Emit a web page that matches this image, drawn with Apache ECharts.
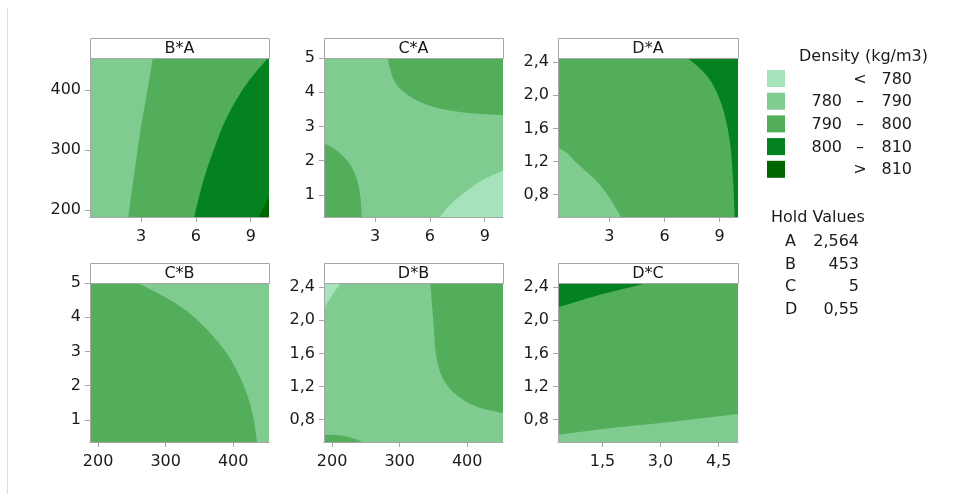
<!DOCTYPE html>
<html>
<head>
<meta charset="utf-8">
<script src="https://cdn.jsdelivr.net/npm/echarts@6/dist/echarts.min.js"></script>
<style>
  html, body { margin: 0; padding: 0; background: #ffffff; }
  #chart { width: 964px; height: 495px; }
</style>
</head>
<body>
<div id="chart"></div>
<script>
const FONT = '"DejaVu Sans", "Open Sans", sans-serif';

// Density bands, lowest to highest
const bandColors = ['#a6e3ba', '#80cb8f', '#53ae5c', '#04821f', '#006700'];
const bandLabels = [['', '<', '780'], ['780', '–', '790'], ['790', '–', '800'], ['800', '–', '810'], ['', '>', '810']];

// Hold values of the factors not shown in a panel
const holdFactors = ['A', 'B', 'C', 'D'];
const holdValues = ['2,564', '453', '5', '0,55'];

// Factor ranges
const rangeA = [0.2, 10];
const rangeB = [188, 453];
const rangeC = [0.35, 5];
const rangeD = [0.53, 2.45];

// Tick values
const ticksA = [3, 6, 9];
const ticksB = [200, 300, 400];
const ticksC = [1, 2, 3, 4, 5];
const ticksCx = [1.5, 3.0, 4.5];
const ticksD = [0.8, 1.2, 1.6, 2.0, 2.4];

// Contour boundaries, [x, y] in factor units
// B*A  (x = A, y = B)
const baLine790 = [[3.64, 453], [3.35, 400], [2.95, 330], [2.62, 260], [2.30, 188]];
const baLine800 = [[9.95, 453], [8.78, 410], [7.69, 354], [6.96, 299], [6.41, 249], [5.90, 188]];
const baLine810 = [[9.42, 188], [10, 221]];
// C*A  (x = A, y = C)
const caLineTop = [[3.67, 5], [4.03, 4.35], [4.67, 3.96], [5.66, 3.67], [6.93, 3.48], [8.37, 3.38], [10, 3.33]];
const caLineLeft = [[0.2, 2.51], [0.87, 2.31], [1.59, 1.92], [2.01, 1.44], [2.19, 0.95], [2.28, 0.35]];
const caLine780 = [[6.53, 0.35], [7.2, 0.76], [8.1, 1.15], [8.91, 1.44], [10, 1.70]];
// D*A  (x = A, y = D)
const daLine790 = [[0.2, 1.37], [0.7, 1.30], [1.25, 1.175], [2.25, 0.973], [2.98, 0.771], [3.62, 0.53]];
const daLine800 = [[7.27, 2.45], [8.36, 2.22], [9.09, 1.90], [9.55, 1.456], [9.73, 0.973], [9.82, 0.53]];
// C*B  (x = B, y = C)
const cbLine790 = [[258.8, 5], [310.3, 4.46], [349.6, 3.87], [388.8, 2.99], [413.2, 2.11], [428, 1.23], [435.3, 0.35]];
// D*B  (x = B, y = D)
const dbLine780 = [[212.5, 2.45], [197.6, 2.27], [188, 2.15]];
const dbLineRight = [[345.4, 2.45], [349.9, 1.986], [353.9, 1.584], [363.7, 1.30], [383.6, 1.10], [413.4, 0.96], [453, 0.88]];
const dbLineLow = [[188, 0.618], [205, 0.615], [225, 0.59], [245, 0.53]];
// D*C  (x = C, y = D)
const dcLine800 = [[0.35, 2.155], [1.46, 2.31], [2.67, 2.45]];
const dcLine790 = [[0.35, 0.618], [1.72, 0.70], [3.01, 0.76], [5, 0.868]];

// Each region: [band, boundary, corners that close it]
const panels = [
  { title: 'B*A', xr: rangeA, yr: rangeB, xt: ticksA, yt: ticksB, xd: 0, yd: 0, base: 2,
    regions: [[1, baLine790, ['bl', 'tl']], [3, baLine800, ['br', 'tr']], [4, baLine810, ['br']]] },
  { title: 'C*A', xr: rangeA, yr: rangeC, xt: ticksA, yt: ticksC, xd: 0, yd: 0, base: 1,
    regions: [[2, caLineTop, ['tr']], [2, caLineLeft, ['bl']], [0, caLine780, ['br']]] },
  { title: 'D*A', xr: rangeA, yr: rangeD, xt: ticksA, yt: ticksD, xd: 0, yd: 1, base: 2,
    regions: [[1, daLine790, ['bl']], [3, daLine800, ['br', 'tr']]] },
  { title: 'C*B', xr: rangeB, yr: rangeC, xt: ticksB, yt: ticksC, xd: 0, yd: 0, base: 2,
    regions: [[1, cbLine790, ['br', 'tr']]] },
  { title: 'D*B', xr: rangeB, yr: rangeD, xt: ticksB, yt: ticksD, xd: 0, yd: 1, base: 1,
    regions: [[0, dbLine780, ['tl']], [2, dbLineRight, ['tr']], [2, dbLineLow, ['bl']]] },
  { title: 'D*C', xr: rangeC, yr: rangeD, xt: ticksCx, yt: ticksD, xd: 1, yd: 1, base: 2,
    regions: [[3, dcLine800, ['tl']], [1, dcLine790, ['br', 'bl']]] }
];

const colLeft = [90, 324, 558];
const colWidth = [179, 179, 180];
const rowTop = [58, 283];
const plotH = 159;
const headerH = 20;
const axisGray = '#a6a6a6';
const textColor = '#1a1a1a';

function fmt(dec) {
  return v => dec ? Number(v).toFixed(dec).replace('.', ',') : String(v);
}

function cornerValue(p, c) {
  const x = c[1] === 'l' ? p.xr[0] : p.xr[1];
  const y = c[0] === 'b' ? p.yr[0] : p.yr[1];
  return [x, y];
}

// Smooth path through the boundary points, then straight along the frame
function buildPath(pts, corners) {
  let d = '';
  if (pts.length) {
    d += 'M' + pts[0][0] + ',' + pts[0][1];
    for (let i = 0; i < pts.length - 1; i++) {
      const p0 = pts[Math.max(i - 1, 0)], p1 = pts[i], p2 = pts[i + 1], p3 = pts[Math.min(i + 2, pts.length - 1)];
      const c1 = [p1[0] + (p2[0] - p0[0]) / 6, p1[1] + (p2[1] - p0[1]) / 6];
      const c2 = [p2[0] - (p3[0] - p1[0]) / 6, p2[1] - (p3[1] - p1[1]) / 6];
      d += 'C' + c1[0] + ',' + c1[1] + ' ' + c2[0] + ',' + c2[1] + ' ' + p2[0] + ',' + p2[1];
    }
    corners.forEach(c => { d += 'L' + c[0] + ',' + c[1]; });
  } else {
    d += 'M' + corners[0][0] + ',' + corners[0][1];
    corners.slice(1).forEach(c => { d += 'L' + c[0] + ',' + c[1]; });
  }
  return d + 'Z';
}

const grid = [], xAxis = [], yAxis = [], series = [], graphic = [];

panels.forEach((p, i) => {
  const col = i % 3, row = Math.floor(i / 3);
  const left = colLeft[col], top = rowTop[row], width = colWidth[col];
  grid.push({ left: left, top: top, width: width, height: plotH });
  const axisCommon = {
    type: 'value', gridIndex: i, z: 5,
    axisLine: { show: true, lineStyle: { color: axisGray, width: 1 } },
    axisTick: { show: true, length: 5, lineStyle: { color: axisGray } },
    splitLine: { show: false },
    axisLabel: { color: textColor, fontFamily: FONT, fontSize: 16, margin: 9 }
  };
  xAxis.push(Object.assign({}, axisCommon, {
    min: p.xr[0], max: p.xr[1],
    axisTick: Object.assign({}, axisCommon.axisTick, { customValues: p.xt }),
    axisLabel: Object.assign({}, axisCommon.axisLabel, { customValues: p.xt, formatter: fmt(p.xd), margin: 12 })
  }));
  yAxis.push(Object.assign({}, axisCommon, {
    min: p.yr[0], max: p.yr[1],
    axisTick: Object.assign({}, axisCommon.axisTick, { customValues: p.yt }),
    axisLabel: Object.assign({}, axisCommon.axisLabel, { customValues: p.yt, formatter: fmt(p.yd) })
  }));

  const regions = [[p.base, [], ['bl', 'br', 'tr', 'tl']]].concat(p.regions);
  series.push({
    type: 'custom', xAxisIndex: i, yAxisIndex: i, clip: true, silent: true, animation: false,
    encode: { x: 0, y: 1 },
    data: regions.map((r, k) => [p.xr[0], p.yr[0], k]),
    renderItem: function (params, api) {
      const r = regions[api.value(2)];
      const pts = r[1].map(v => api.coord(v));
      const cs = r[2].map(c => api.coord(cornerValue(p, c)));
      return { type: 'path', shape: { pathData: buildPath(pts, cs) }, style: { fill: bandColors[r[0]], stroke: null } };
    }
  });

  // Panel header strip
  graphic.push({
    type: 'rect', left: left, top: top - headerH, z: 10,
    shape: { width: width, height: headerH },
    style: { fill: '#ffffff', stroke: axisGray, lineWidth: 1 }
  });
  graphic.push({
    type: 'text', x: left + width / 2, y: top - headerH / 2 + 1, z: 11,
    style: { text: p.title, fill: textColor, font: '16px ' + FONT, textAlign: 'center', textVerticalAlign: 'middle' }
  });
});

// Page edge rule
graphic.push({ type: 'line', z: 1, shape: { x1: 7.5, y1: 8, x2: 7.5, y2: 494 }, style: { stroke: '#dcdcdc', lineWidth: 1 } });

// Legend
graphic.push({ type: 'text', x: 799, y: 57, style: { text: 'Density (kg/m3)', fill: textColor, font: '16px ' + FONT, textVerticalAlign: 'middle' } });
bandLabels.forEach((b, k) => {
  const y = 70 + k * 22.7;
  graphic.push({ type: 'rect', shape: { x: 767, y: y, width: 18, height: 17 }, style: { fill: bandColors[k] } });
  const cy = y + 9.5;
  graphic.push({ type: 'text', x: 842, y: cy, style: { text: b[0], fill: textColor, font: '16px ' + FONT, textAlign: 'right', textVerticalAlign: 'middle' } });
  graphic.push({ type: 'text', x: 860, y: cy, style: { text: b[1], fill: textColor, font: '16px ' + FONT, textAlign: 'center', textVerticalAlign: 'middle' } });
  graphic.push({ type: 'text', x: 912, y: cy, style: { text: b[2], fill: textColor, font: '16px ' + FONT, textAlign: 'right', textVerticalAlign: 'middle' } });
});

// Hold values table
graphic.push({ type: 'text', x: 771, y: 218, style: { text: 'Hold Values', fill: textColor, font: '16px ' + FONT, textVerticalAlign: 'middle' } });
holdFactors.forEach((f, k) => {
  const cy = 241.7 + k * 22.7;
  graphic.push({ type: 'text', x: 785, y: cy, style: { text: f, fill: textColor, font: '16px ' + FONT, textVerticalAlign: 'middle' } });
  graphic.push({ type: 'text', x: 859, y: cy, style: { text: holdValues[k], fill: textColor, font: '16px ' + FONT, textAlign: 'right', textVerticalAlign: 'middle' } });
});

const chart = echarts.init(document.getElementById('chart'), null, { renderer: 'canvas' });
chart.setOption({
  animation: false,
  backgroundColor: '#ffffff',
  grid: grid, xAxis: xAxis, yAxis: yAxis, series: series, graphic: graphic
});
</script>
</body>
</html>
